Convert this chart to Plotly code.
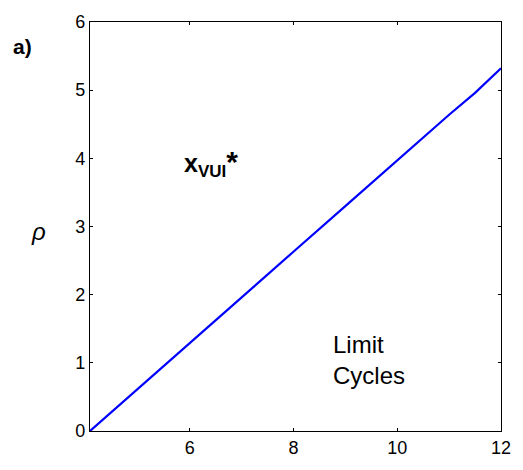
import plotly.graph_objects as go

# Data
x_vals = [4.08, 5.0, 6.0, 7.0, 8.0, 9.0, 10.0, 11.0, 11.5, 12.0]
rho_vals = [0.0, 0.62, 1.29, 1.96, 2.63, 3.30, 3.97, 4.64, 4.96, 5.32]
x_ticks = [6, 8, 10, 12]
y_ticks = [0, 1, 2, 3, 4, 5, 6]

FAM = "Arial, Liberation Sans, sans-serif"

fig = go.Figure()
fig.add_trace(go.Scatter(x=x_vals, y=rho_vals, mode="lines",
                         line=dict(color="#0000ff", width=2.2), showlegend=False))

font = dict(family=FAM, size=18, color="black")

fig.update_layout(
    width=523, height=470,
    margin=dict(l=90, r=14, t=12, b=34),
    plot_bgcolor="white", paper_bgcolor="white",
    font=font,
    xaxis=dict(range=[4.08, 12], tickvals=x_ticks, showgrid=False, zeroline=False,
               showline=True, linecolor="black", linewidth=1.2, mirror="ticks",
               ticks="inside", ticklen=3, tickcolor="black", tickfont=font),
    yaxis=dict(range=[0, 6], tickvals=y_ticks, showgrid=False, zeroline=False,
               showline=True, linecolor="black", linewidth=1.2, mirror="ticks",
               ticks="inside", ticklen=3, tickcolor="black", tickfont=font),
)

fig.add_annotation(text="<b>a)</b>", xref="paper", yref="paper", x=-0.165, y=0.94,
                   xanchor="center", yanchor="middle",
                   showarrow=False, font=dict(family=FAM, size=21, color="black"))
fig.add_annotation(
    text="<b>x<sub><span style='font-size:17px'>VUI</span></sub>"
         "<span style='font-size:30px'>*</span></b>",
    x=6.41, y=3.93, xanchor="center", yanchor="middle",
    showarrow=False, font=dict(family=FAM, size=25, color="black"))
fig.add_annotation(text="Limit<br>Cycles", x=8.73, y=1.04, xanchor="left", align="left",
                   yanchor="middle",
                   showarrow=False, font=dict(family=FAM, size=24, color="black"))
fig.add_annotation(text="<i>ρ</i>", xref="paper", x=-0.126, y=2.93,
                   xanchor="center", yanchor="middle",
                   showarrow=False, font=dict(family=FAM, size=24, color="black"))

fig.write_html("out.html")
